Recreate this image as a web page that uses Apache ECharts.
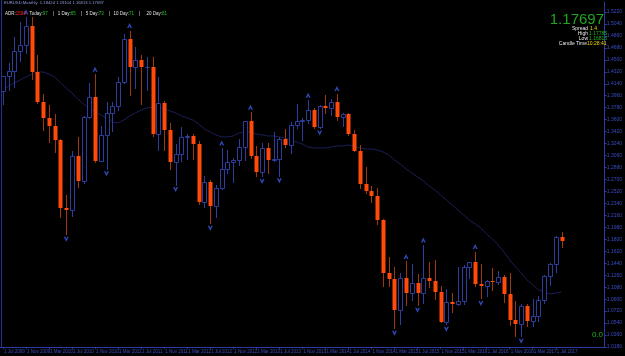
<!DOCTYPE html>
<html>
<head>
<meta charset="utf-8">
<title>EURUSD,Monthly</title>
<script src="https://cdn.jsdelivr.net/npm/echarts@6/dist/echarts.min.js"></script>
<style>
  html, body { margin: 0; padding: 0; background: #000; }
  #chart { width: 625px; height: 356px; }
</style>
</head>
<body>
<div id="chart"></div>
<script>
// EURUSD monthly bars, Jul 2009 .. Aug 2017 (last bar still open)
var monthNames = ['Jan','Feb','Mar','Apr','May','Jun','Jul','Aug','Sep','Oct','Nov','Dec'];
var startYear = 2009, startMonth = 6;   // Jul 2009
var padBars = 7;                         // empty space right of the last bar

var opens = [
  1.4035,1.4255,1.4336,1.4638,1.4716,1.5003, 1.4321,1.3867,1.3627,1.3510,1.3293,1.2270,
  1.2238,1.3048,1.2682,1.3633,1.3935,1.2983, 1.3366,1.3696,1.3806,1.4166,1.4808,1.4393,
  1.4502,1.4396,1.4399,1.3386,1.3858,1.3450, 1.2960,1.3080,1.3346,1.3356,1.3236,1.2363,
  1.2667,1.2307,1.2577,1.2859,1.2960,1.2988, 1.3184,1.3578,1.3054,1.2819,1.3169,1.2997,
  1.3010,1.3302,1.3222,1.3526,1.3585,1.3592, 1.3743,1.3485,1.3802,1.3770,1.3867,1.3636,
  1.3691,1.3389,1.3131,1.2629,1.2525,1.2451, 1.2098,1.1290,1.1196,1.0731,1.1224,1.0988,
  1.1147,1.0985,1.1212,1.1178,1.1006,1.0563, 1.0861,1.0831,1.0873,1.1380,1.1454,1.1131,
  1.1105,1.1172,1.1156,1.1238,1.0981,1.0588, 1.0520,1.0797,1.0575,1.0652,1.0894,1.1243,
  1.1425,1.1842
];
var highs = [
  1.4264,1.4447,1.4843,1.5064,1.5144,1.5143, 1.4579,1.3987,1.3818,1.3692,1.3308,1.2472,
  1.3129,1.3334,1.3651,1.4157,1.4282,1.3500, 1.3860,1.3862,1.4249,1.4882,1.4940,1.4700,
  1.4578,1.4549,1.4538,1.4247,1.3874,1.3549, 1.3235,1.3487,1.3385,1.3380,1.3283,1.2747,
  1.2692,1.2624,1.3172,1.3140,1.3017,1.3308, 1.3587,1.3711,1.3203,1.3243,1.3243,1.3416,
  1.3345,1.3452,1.3569,1.3832,1.3620,1.3893, 1.3775,1.3825,1.3967,1.3907,1.3993,1.3700,
  1.3700,1.3444,1.3221,1.2887,1.2601,1.2570, 1.2100,1.1534,1.1387,1.1290,1.1467,1.1436,
  1.1278,1.1714,1.1460,1.1495,1.1095,1.1059, 1.0986,1.1376,1.1410,1.1464,1.1616,1.1428,
  1.1185,1.1366,1.1327,1.1257,1.1300,1.0874, 1.0829,1.0829,1.0906,1.0950,1.1268,1.1445,
  1.1847,1.1910
];
var lows = [
  1.3833,1.4046,1.4098,1.4479,1.4606,1.4218, 1.3858,1.3444,1.3267,1.3116,1.2143,1.1876,
  1.2150,1.2588,1.2643,1.3630,1.2969,1.3000, 1.2861,1.3430,1.3747,1.4154,1.3968,1.4072,
  1.3838,1.4051,1.3361,1.3145,1.3144,1.2858, 1.2624,1.2975,1.3004,1.3001,1.2332,1.2288,
  1.2042,1.2133,1.2563,1.2804,1.2662,1.2924, 1.3000,1.3020,1.2750,1.2745,1.2796,1.2985,
  1.2755,1.3189,1.3103,1.3480,1.3295,1.3545, 1.3478,1.3476,1.3705,1.3673,1.3591,1.3503,
  1.3368,1.3131,1.2572,1.2500,1.2358,1.2036, 1.1098,1.1098,1.0462,1.0520,1.0819,1.0888,
  1.0808,1.0848,1.1087,1.0896,1.0558,1.0524, 1.0711,1.0810,1.0822,1.1217,1.1097,1.0911,
  1.0952,1.1045,1.1122,1.0851,1.0506,1.0352, 1.0340,1.0494,1.0494,1.0569,1.0838,1.1118,
  1.1312,1.1688
];
var closes = [
  1.4255,1.4336,1.4638,1.4716,1.5003,1.4321, 1.3867,1.3627,1.3510,1.3293,1.2270,1.2238,
  1.3048,1.2682,1.3633,1.3935,1.2983,1.3366, 1.3696,1.3806,1.4166,1.4808,1.4393,1.4502,
  1.4396,1.4399,1.3386,1.3858,1.3450,1.2960, 1.3080,1.3346,1.3356,1.3236,1.2363,1.2667,
  1.2307,1.2577,1.2859,1.2960,1.2988,1.3184, 1.3578,1.3054,1.2819,1.3169,1.2997,1.3010,
  1.3302,1.3222,1.3526,1.3585,1.3592,1.3743, 1.3485,1.3802,1.3770,1.3867,1.3636,1.3691,
  1.3389,1.3131,1.2629,1.2525,1.2451,1.2098, 1.1290,1.1196,1.0731,1.1224,1.0988,1.1147,
  1.0985,1.1212,1.1178,1.1006,1.0563,1.0861, 1.0831,1.0873,1.1380,1.1454,1.1131,1.1105,
  1.1172,1.1156,1.1238,1.0981,1.0588,1.0520, 1.0797,1.0575,1.0652,1.0894,1.1243,1.1425,
  1.1842,1.17697
];

// slow moving average as drawn on the chart
var maValues = [
  1.4046,1.4107,1.4152,1.4197,1.4242,1.4287, 1.4317,1.4317,1.4287,1.4242,1.4152,1.4077,
  1.4001,1.3911,1.3836,1.3776,1.3716,1.3671, 1.3625,1.3565,1.3550,1.3595,1.3655,1.3701,
  1.3746,1.3776,1.3791,1.3791,1.3761,1.3731, 1.3701,1.3655,1.3625,1.3595,1.3535,1.3460,
  1.3415,1.3370,1.3340,1.3340,1.3355,1.3400, 1.3415,1.3415,1.3385,1.3370,1.3355,1.3355,
  1.3340,1.3325,1.3295,1.3264,1.3234,1.3189, 1.3174,1.3174,1.3174,1.3189,1.3204,1.3204,
  1.3219,1.3204,1.3174,1.3159,1.3159,1.3144, 1.3114,1.3069,1.2994,1.2934,1.2858,1.2798,
  1.2738,1.2678,1.2603,1.2543,1.2467,1.2392, 1.2317,1.2242,1.2167,1.2091,1.2031,1.1971,
  1.1881,1.1806,1.1715,1.1610,1.1490,1.1384, 1.1294,1.1189,1.1114,1.1039,1.1008,1.0978,
  1.0993,1.1008
];

// bars that carry a fractal arrow
var fractalUp = [4, 16, 22, 38, 43, 53, 58, 70, 73, 82];
var fractalDown = [11, 18, 30, 36, 45, 48, 55, 68, 72, 77, 83, 90];

var yTicks = { min: 1.018, max: 1.537, step: 0.018 };
var bid = 1.17697;

var bullColor = '#2d3d9c';
var bearBody = '#ff4a0a';
var bearWick = '#9c380c';
var axisColor = '#2a3aa6';
var textBlue = '#3a4cc0';

var categories = [];
for (var i = 0; i < opens.length + padBars; i++) {
  if (i < opens.length) {
    var m = (startMonth + i) % 12;
    var y = startYear + Math.floor((startMonth + i) / 12);
    categories.push('1 ' + monthNames[m] + ' ' + y);
  } else {
    categories.push('');
  }
}

var candleData = opens.map(function (o, i) {
  return [i, o, highs[i], lows[i], closes[i]];
});

function renderCandle(params, api) {
  var i = api.value(0);
  var o = api.value(1), h = api.value(2), l = api.value(3), c = api.value(4);
  var pO = api.coord([i, o]), pC = api.coord([i, c]);
  var pH = api.coord([i, h]), pL = api.coord([i, l]);
  var cx = Math.round(pO[0]);
  var up = c >= o;
  var top = Math.round(Math.min(pO[1], pC[1]));
  var bot = Math.round(Math.max(pO[1], pC[1]));
  var kids = [{
    type: 'line',
    shape: { x1: cx + 0.5, y1: Math.round(pH[1]), x2: cx + 0.5, y2: Math.round(pL[1]) + 1 },
    style: { stroke: up ? bullColor : bearWick, lineWidth: 1 }
  }];
  if (up) {
    kids.push({
      type: 'rect',
      shape: { x: cx - 1.5, y: top + 0.5, width: 4, height: Math.max(bot - top, 0) },
      style: { fill: '#000', stroke: bullColor, lineWidth: 1 }
    });
  } else {
    kids.push({
      type: 'rect',
      shape: { x: cx - 1.5, y: top, width: 4, height: Math.max(bot - top, 1) },
      style: { fill: bearBody }
    });
  }
  return { type: 'group', children: kids };
}

var arrowUp = 'path://M0,10 L5,0 L10,10 L7,10 L5,6 L3,10 Z';
var arrowDown = 'path://M0,0 L5,10 L10,0 L7,0 L5,4 L3,0 Z';

var chart = echarts.init(document.getElementById('chart'), null, { renderer: 'canvas' });

chart.setOption({
  backgroundColor: '#000',
  animation: false,
  grid: { left: -2, right: 16, top: 2, bottom: 9 },
  xAxis: {
    type: 'category',
    data: categories,
    boundaryGap: true,
    axisLine: { show: true, lineStyle: { color: axisColor, width: 1 } },
    axisTick: {
      show: true, alignWithLabel: true, length: 2,
      interval: function (idx) { return idx % 4 === 0 && idx < opens.length; },
      lineStyle: { color: axisColor }
    },
    axisLabel: {
      interval: function (idx) { return idx % 4 === 0 && idx < opens.length; },
      color: textBlue, fontSize: 4.5, fontFamily: 'Liberation Sans',
      align: 'left', margin: 2, padding: [0, 0, 0, 1]
    },
    splitLine: { show: false }
  },
  yAxis: {
    type: 'value',
    position: 'right',
    min: yTicks.min,
    max: yTicks.max,
    interval: yTicks.step,
    axisLine: { show: true, lineStyle: { color: axisColor, width: 1 } },
    axisTick: { show: true, length: 2, lineStyle: { color: axisColor } },
    axisLabel: {
      color: textBlue, fontSize: 5, fontFamily: 'Liberation Sans', margin: 2,
      showMaxLabel: false,
      formatter: function (v) { return v.toFixed(4); }
    },
    splitLine: { show: false }
  },
  series: [
    {
      name: 'MA',
      type: 'line',
      data: maValues,
      symbol: 'none',
      lineStyle: { color: '#1b1e58', width: 1 },
      z: 1,
      markLine: {
        silent: true,
        symbol: 'none',
        lineStyle: { opacity: 0 },
        label: {
          position: 'end', distance: 0,
          formatter: bid.toFixed(5),
          color: '#0b1250', backgroundColor: '#a8b8ff',
          fontSize: 5, fontFamily: 'Liberation Sans', padding: [1, 1, 0, 1]
        },
        data: [{ yAxis: bid }]
      }
    },
    {
      name: 'EURUSD',
      type: 'custom',
      renderItem: renderCandle,
      data: candleData,
      encode: { x: 0, y: [1, 2, 3, 4] },
      z: 2
    },
    {
      name: 'fractal up',
      type: 'scatter',
      data: fractalUp.map(function (i) { return [i, highs[i]]; }),
      symbol: arrowUp,
      symbolSize: [5, 5],
      symbolOffset: [0, -5],
      itemStyle: { color: '#3d5ae6' },
      z: 3
    },
    {
      name: 'fractal down',
      type: 'scatter',
      data: fractalDown.map(function (i) { return [i, lows[i]]; }),
      symbol: arrowDown,
      symbolSize: [5, 5],
      symbolOffset: [0, 5],
      itemStyle: { color: '#3d5ae6' },
      z: 3
    }
  ],
  graphic: [
    { type: 'line', shape: { x1: 1.5, y1: 0, x2: 1.5, y2: 347 }, style: { stroke: '#22338f', lineWidth: 1 }, z: 10 },
    {
      type: 'text', left: 4, top: 1, z: 10,
      style: { text: 'EURUSD,Monthly  1.18424 1.19104 1.16813 1.17697', fill: '#8d9be0', fontSize: 4.2, fontFamily: 'Liberation Sans' }
    },
    {
      type: 'text', left: 5, top: 11, z: 10,
      style: {
        text: '{w|ADR:}{r|1504}{w|   Today:}{g|97}{w|    |   1 Day:}{g|65}{w|    |   5 Day:}{g|73}{w|    |   10 Day:}{g|71}{w|    |     20 Day:}{g|81}',
        fontSize: 4.5, fontFamily: 'Liberation Sans',
        rich: {
          w: { fill: '#e0e0e0', fontSize: 4.5 },
          r: { fill: '#ff2a2a', fontSize: 4.5 },
          g: { fill: '#22c022', fontSize: 4.5 }
        }
      }
    },
    {
      type: 'text', right: 21, top: 12, z: 10,
      style: { text: bid.toFixed(5), fill: '#1fa51f', fontSize: 15, fontFamily: 'Liberation Sans' }
    },
    { type: 'text', x: 588, y: 29, z: 10, style: { text: 'Spread', fill: '#e8e8e8', fontSize: 5, fontFamily: 'Liberation Sans', align: 'right', verticalAlign: 'middle' } },
    { type: 'text', x: 590, y: 29, z: 10, style: { text: '1.4', fill: '#f0dc00', fontSize: 5, fontFamily: 'Liberation Sans', verticalAlign: 'middle' } },
    { type: 'text', x: 588, y: 34, z: 10, style: { text: 'High', fill: '#e8e8e8', fontSize: 5, fontFamily: 'Liberation Sans', align: 'right', verticalAlign: 'middle' } },
    { type: 'text', x: 589, y: 34, z: 10, style: { text: '1.17785', fill: '#22b022', fontSize: 5, fontFamily: 'Liberation Sans', verticalAlign: 'middle' } },
    { type: 'text', x: 588, y: 39, z: 10, style: { text: 'Low', fill: '#e8e8e8', fontSize: 5, fontFamily: 'Liberation Sans', align: 'right', verticalAlign: 'middle' } },
    { type: 'text', x: 589, y: 39, z: 10, style: { text: '1.16813', fill: '#22b022', fontSize: 5, fontFamily: 'Liberation Sans', verticalAlign: 'middle' } },
    { type: 'text', x: 587, y: 44, z: 10, style: { text: 'Candle Time', fill: '#e8e8e8', fontSize: 5, fontFamily: 'Liberation Sans', align: 'right', verticalAlign: 'middle' } },
    { type: 'text', x: 587, y: 44, z: 10, style: { text: '10:28:41', fill: '#f0dc00', fontSize: 5, fontFamily: 'Liberation Sans', verticalAlign: 'middle' } },
    { type: 'text', x: 603, y: 335, z: 10, style: { text: '0.0', fill: '#22b022', fontSize: 8, fontFamily: 'Liberation Sans', align: 'right', verticalAlign: 'middle' } }
  ]
});
</script>
</body>
</html>
